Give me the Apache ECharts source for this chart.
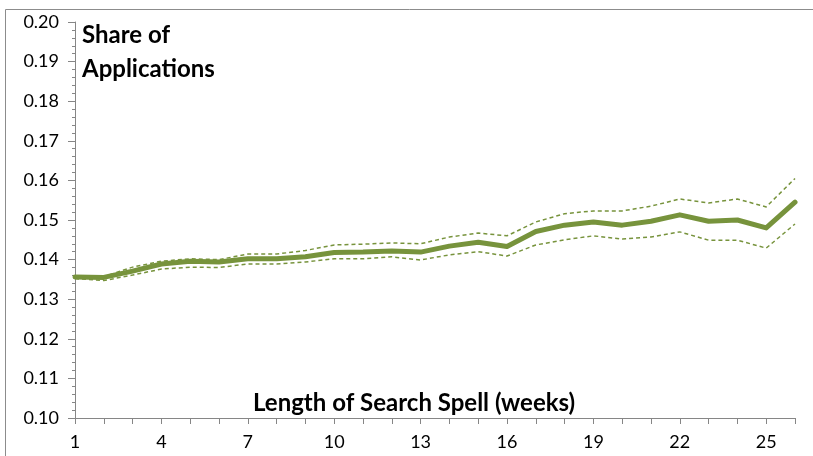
<!DOCTYPE html>
<html>
<head>
<meta charset="utf-8">
<script src="https://cdn.jsdelivr.net/npm/echarts@6/dist/echarts.min.js"></script>
<style>
  html, body { margin: 0; padding: 0; background: #fff; }
  #chart { width: 813px; height: 456px; }
</style>
</head>
<body>
<div id="chart"></div>
<script>
// weeks of search spell
var weeks = ['1','2','3','4','5','6','7','8','9','10','11','12','13','14','15','16','17','18','19','20','21','22','23','24','25','26'];
// share of applications (point estimate)
var share = [0.1356,0.1355,0.1371,0.1389,0.1396,0.1394,0.1402,0.1402,0.1407,0.1418,0.1419,0.1422,0.1419,0.1434,0.1444,0.1433,0.1471,0.1487,0.1495,0.1487,0.1497,0.1513,0.1497,0.1500,0.1480,0.1545];
// confidence band
var upper = [0.1358,0.1357,0.1381,0.1396,0.1402,0.1400,0.1414,0.1414,0.1423,0.1437,0.1439,0.1442,0.1440,0.1457,0.1467,0.1460,0.1495,0.1516,0.1523,0.1523,0.1535,0.1553,0.1543,0.1553,0.1533,0.1605];
var lower = [0.1352,0.1347,0.1361,0.1376,0.1381,0.1380,0.1389,0.1389,0.1394,0.1402,0.1402,0.1407,0.1399,0.1412,0.1420,0.1409,0.1437,0.1450,0.1460,0.1452,0.1457,0.1470,0.1449,0.1449,0.1429,0.1490];

var green = '#77933c';
var axisGray = '#868686';
var font = 'Lato, "Open Sans", sans-serif';

var chart = echarts.init(document.getElementById('chart'));
chart.setOption({
  animation: false,
  title: {
    text: 'Share of\nApplications',
    left: 77,
    top: 13,
    textStyle: { fontFamily: font, fontSize: 24, fontWeight: 'bold', color: '#000', lineHeight: 34 }
  },
  graphic: [
    {
      type: 'rect',
      silent: true,
      shape: { x: 5.5, y: 9.5, width: 830, height: 470 },
      style: { fill: 'none', stroke: '#8c8c8c', lineWidth: 1 }
    },
    {
      type: 'text',
      left: 253,
      top: 391,
      style: {
        text: 'Length of Search Spell (weeks)',
        font: 'bold 24px ' + font,
        fill: '#000'
      }
    }
  ],
  grid: { left: 75, right: 18, top: 22, bottom: 38 },
  xAxis: {
    type: 'category',
    data: weeks,
    boundaryGap: false,
    axisLine: { lineStyle: { color: axisGray, width: 1 } },
    axisTick: { interval: 0, length: 6, lineStyle: { color: axisGray } },
    axisLabel: { interval: 2, color: '#000', fontFamily: font, fontSize: 18, margin: 15 },
    splitLine: { show: false }
  },
  yAxis: {
    type: 'value',
    min: 0.10,
    max: 0.20,
    interval: 0.01,
    axisLine: { show: true, lineStyle: { color: axisGray, width: 1 } },
    axisTick: { show: true, length: 7, lineStyle: { color: axisGray } },
    minorTick: { show: true, splitNumber: 5, length: 3, lineStyle: { color: axisGray } },
    axisLabel: {
      color: '#000', fontFamily: font, fontSize: 18, margin: 16,
      formatter: function (v) { return v.toFixed(2); }
    },
    splitLine: { show: false }
  },
  series: [
    {
      name: 'upper',
      type: 'line',
      data: upper,
      symbol: 'none',
      lineStyle: { color: green, width: 1.5, type: [4, 3] }
    },
    {
      name: 'lower',
      type: 'line',
      data: lower,
      symbol: 'none',
      lineStyle: { color: green, width: 1.5, type: [4, 3] }
    },
    {
      name: 'share',
      type: 'line',
      data: share,
      symbol: 'none',
      lineStyle: { color: green, width: 5, cap: 'round', join: 'round' },
      z: 3
    }
  ]
});
</script>
</body>
</html>
